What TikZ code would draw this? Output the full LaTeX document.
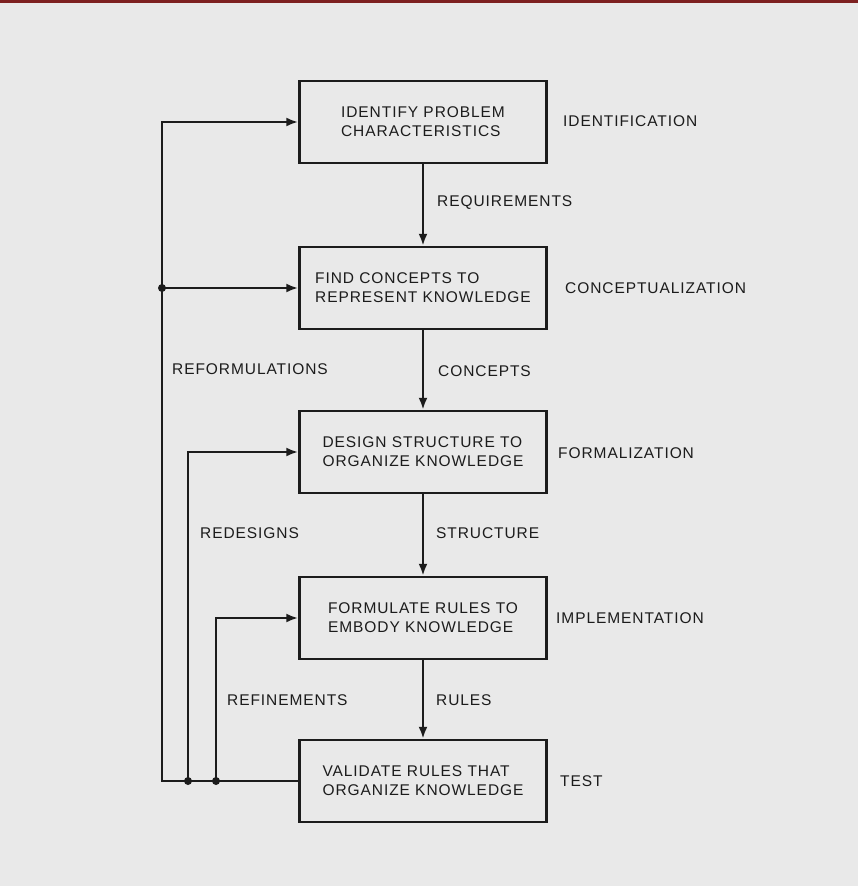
\documentclass[tikz,border=0pt]{standalone}
\usepackage{fontspec}
\setmainfont[LetterSpace=6]{Liberation Sans}
\usetikzlibrary{arrows.meta}

\definecolor{paper}{RGB}{233,233,233}
\definecolor{ink}{RGB}{28,28,28}
\definecolor{rim}{RGB}{125,32,32}

\begin{document}
\begin{tikzpicture}[x=1pt,y=-1pt,
    every node/.style={font=\fontsize{15.5}{19}\selectfont,text=ink},
    stage/.style={draw=ink,line width=2.4pt,minimum width=247pt,minimum height=82pt,align=left,inner sep=0pt},
    tag/.style={anchor=west,inner sep=0pt},
    flow/.style={draw=ink,line width=2.4pt,>={Latex[length=12pt,width=9pt]},->},
    junction/.style={circle,fill=ink,inner sep=0pt,minimum size=8pt}]
    % page
    \fill[paper] (0,0) rectangle (858,886);
    \fill[rim] (0,0) rectangle (858,3);
    \useasboundingbox (0,0) rectangle (858,886);

    % the five steps
    \node[stage] (ident) at (423,122) {IDENTIFY PROBLEM\\CHARACTERISTICS};
    \node[stage] (concept) at (423,288) {FIND CONCEPTS TO\\REPRESENT KNOWLEDGE};
    \node[stage] (formal) at (423,452) {DESIGN STRUCTURE TO\\ORGANIZE KNOWLEDGE};
    \node[stage] (implem) at (423,618) {FORMULATE RULES TO\\EMBODY KNOWLEDGE};
    \node[stage] (test) at (423,781) {VALIDATE RULES THAT\\ORGANIZE KNOWLEDGE};

    % phase names
    \node[tag] (identname) at (563,121) {IDENTIFICATION};
    \node[tag] (conceptname) at (565,288) {CONCEPTUALIZATION};
    \node[tag] (formalname) at (558,453) {FORMALIZATION};
    \node[tag] (implemname) at (556,618) {IMPLEMENTATION};
    \node[tag] (testname) at (560,781) {TEST};

    % forward flow
    \draw[flow] (ident) -- (concept);
    \draw[flow] (concept) -- (formal);
    \draw[flow] (formal) -- (implem);
    \draw[flow] (implem) -- (test);
    \node[tag] (requirements) at (437,203) {REQUIREMENTS};
    \node[tag] (concepts) at (438,371) {CONCEPTS};
    \node[tag] (structure) at (436,533) {STRUCTURE};
    \node[tag] (rules) at (436,700) {RULES};

    % feedback loops
    \coordinate (loopA) at (162,781);
    \coordinate (loopB) at (188,781);
    \coordinate (loopC) at (216,781);
    \draw[flow] (test.west) -- (loopA) |- (ident.west);
    \draw[flow] (loopA |- concept.west) -- (concept.west);
    \draw[flow] (loopB) |- (formal.west);
    \draw[flow] (loopC) |- (implem.west);
    \node[junction] (splitA) at (loopA |- concept.west) {};
    \node[junction] (splitB) at (loopB) {};
    \node[junction] (splitC) at (loopC) {};
    \node[tag] (reform) at (172,369) {REFORMULATIONS};
    \node[tag] (redesign) at (200,533) {REDESIGNS};
    \node[tag] (refine) at (227,700) {REFINEMENTS};
\end{tikzpicture}
\end{document}
